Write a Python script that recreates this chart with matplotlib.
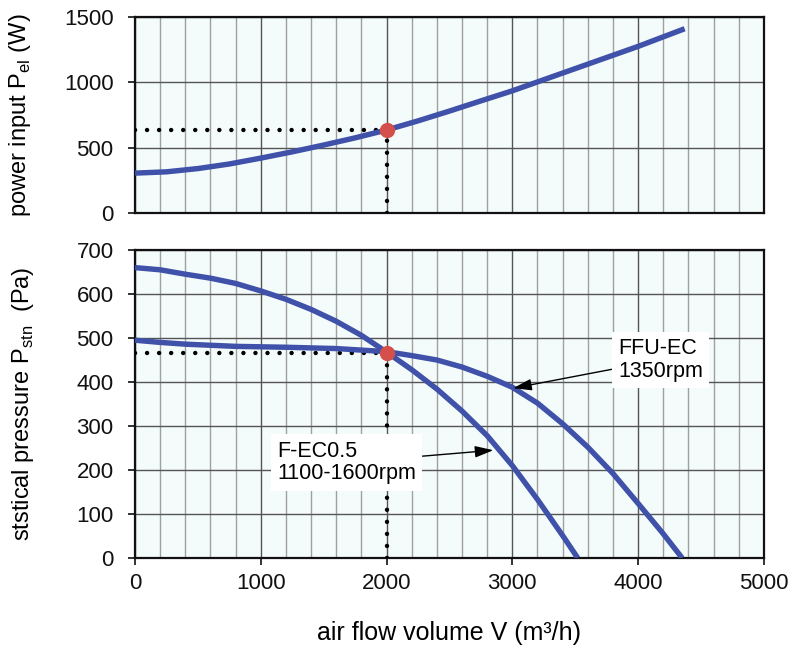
"""
Fan curves: power input and static pressure vs air flow volume
"""

import matplotlib.pyplot as plt
from matplotlib.ticker import MultipleLocator

plt.rcParams['font.family'] = ['Liberation Sans', 'DejaVu Sans']
plt.rcParams['mathtext.fontset'] = 'custom'
plt.rcParams['mathtext.rm'] = 'Liberation Sans'

# power input curve
flow_power = [0, 250, 500, 750, 1000, 1250, 1500, 1750, 2000, 2250, 2500, 2750,
              3000, 3250, 3500, 3750, 4000, 4370]
power = [305, 315, 340, 375, 420, 468, 520, 575, 635, 705, 780, 858,
         935, 1020, 1105, 1190, 1275, 1410]

# F-EC0.5 1100-1600rpm
flow_fec = [0, 200, 400, 600, 800, 1000, 1200, 1400, 1600, 1800, 2000, 2200, 2400,
            2600, 2800, 3000, 3200, 3400, 3520]
press_fec = [660, 655, 645, 636, 624, 607, 588, 565, 538, 506, 468, 428, 384,
             334, 278, 210, 133, 51, 0]

# FFU-EC 1350rpm
flow_ffu = [0, 200, 400, 800, 1200, 1600, 2000, 2200, 2400, 2600, 2800, 3000, 3200,
            3400, 3600, 3800, 4000, 4200, 4350]
press_ffu = [495, 490, 486, 481, 479, 476, 469, 460, 450, 434, 413, 388, 352,
             305, 252, 192, 124, 55, 0]

# operating point
op_flow = 2000
op_power = 635
op_press = 466

curve_color = '#3f51a8'
dot_color = '#d5504a'
bg_color = '#f4fbfb'
dots = (0, (0.01, 2.7))

fig = plt.figure(figsize=(7.92, 6.46), dpi=100)
ax1 = fig.add_axes([0.1705, 0.6703, 0.794, 0.3034])
ax2 = fig.add_axes([0.1705, 0.1362, 0.794, 0.4768])


def style_axes(ax, ymax, ystep):
    ax.set_facecolor(bg_color)
    ax.set_xlim(0, 5000)
    ax.set_ylim(0, ymax)
    ax.xaxis.set_major_locator(MultipleLocator(1000))
    ax.xaxis.set_minor_locator(MultipleLocator(200))
    ax.yaxis.set_major_locator(MultipleLocator(ystep))
    ax.grid(True, which='major', color='#555555', linewidth=1.0)
    ax.grid(True, which='minor', axis='x', color='#a0a0a0', linewidth=1.0)
    ax.set_axisbelow(True)
    for side in ['left', 'bottom', 'top', 'right']:
        ax.spines[side].set_color('#111111')
        ax.spines[side].set_linewidth(1.6)
    ax.tick_params(axis='y', which='major', length=5, width=1.2, pad=10.5,
                   labelsize=16, colors='#111111')
    ax.tick_params(axis='x', which='minor', length=0)


def curve(ax, x, y):
    ax.plot(x, y, color=curve_color, linewidth=3.9, zorder=4,
            solid_joinstyle='round', solid_capstyle='butt')


def guide(ax, flow, value):
    ax.plot([0, flow], [value, value], color='black', linewidth=3.2,
            linestyle=dots, dash_capstyle='round', zorder=3)
    ax.plot([flow, flow], [0, value], color='black', linewidth=3.2,
            linestyle=dots, dash_capstyle='round', zorder=3)
    ax.plot([flow], [value], 'o', color=dot_color, markersize=10, zorder=5)


# top: power input
style_axes(ax1, 1500, 500)
ax1.tick_params(axis='x', which='both', length=0, labelbottom=False)
guide(ax1, op_flow, op_power)
curve(ax1, flow_power, power)
ax1.set_ylabel(r'power input P$_{\mathregular{el}}$ (W)', fontsize=17)
ax1.yaxis.set_label_coords(-0.162, 0.5)

# bottom: static pressure
style_axes(ax2, 700, 100)
ax2.tick_params(axis='x', which='major', length=5, width=1.2, pad=6,
                labelsize=16, colors='#111111')
guide(ax2, op_flow, op_press)
curve(ax2, flow_fec, press_fec)
curve(ax2, flow_ffu, press_ffu)

box = dict(boxstyle='square,pad=0.3', facecolor='white', edgecolor='none')
arrow = dict(arrowstyle='-|>,head_length=0.7,head_width=0.22', color='black',
             linewidth=1.0, mutation_scale=16, shrinkA=0, shrinkB=0)
ax2.annotate('FFU-EC\n1350rpm', xy=(3007, 386), xytext=(3840, 450),
             fontsize=15.5, ha='left', va='center', linespacing=1.1,
             bbox=box, arrowprops=arrow, zorder=6)
ax2.annotate('F-EC0.5\n1100-1600rpm', xy=(2849, 245), xytext=(1130, 217),
             fontsize=15.5, ha='left', va='center', linespacing=1.1,
             bbox=box, arrowprops=arrow, zorder=6)

ax2.set_ylabel(r'ststical pressure P$_{\mathregular{stn}}$  (Pa)', fontsize=17)
ax2.yaxis.set_label_coords(-0.158, 0.5)
ax2.set_xlabel('air flow volume V (m³/h)', fontsize=18, labelpad=19)

plt.savefig('out.png', dpi=100)
plt.close()
